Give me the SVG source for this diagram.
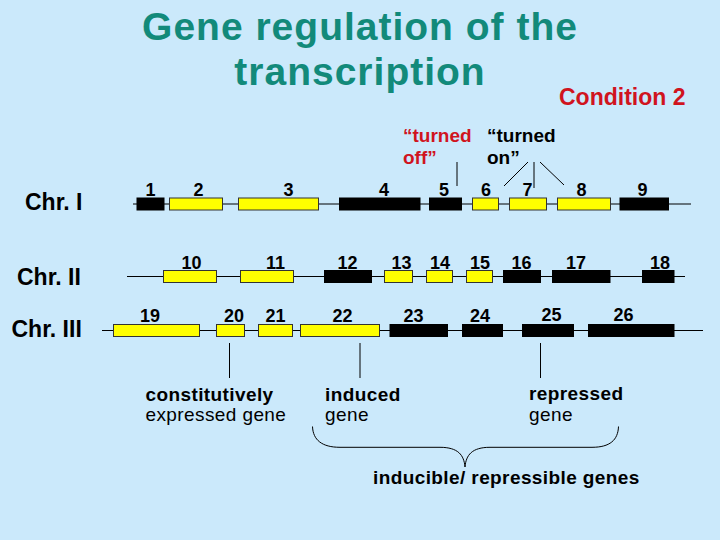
<svg xmlns="http://www.w3.org/2000/svg" width="720" height="540" viewBox="0 0 720 540">
<style>
.bg{fill:#cbe9fb}
.title{font-family:"Liberation Sans",Arial,sans-serif;font-weight:bold;font-size:39px;letter-spacing:1px;fill:#128a7a;text-anchor:middle}
.cond{font-family:"Liberation Sans",Arial,sans-serif;font-weight:bold;font-size:23px;fill:#d0141e}
.chr{font-family:"Liberation Sans",Arial,sans-serif;font-weight:bold;font-size:23px;fill:#000}
.num{font-family:"Liberation Sans",Arial,sans-serif;font-weight:bold;font-size:18px;fill:#000;text-anchor:middle}
.tn{font-family:"Liberation Sans",Arial,sans-serif;font-weight:bold;font-size:19px}
.lb{font-family:"Liberation Sans",Arial,sans-serif;font-size:19px;letter-spacing:0.4px;fill:#000}
.b{font-weight:bold}
.chrline{stroke:#000;stroke-width:1.2;fill:none}
.on{fill:#ffff00;stroke:#333;stroke-width:1}
.off{fill:#000;stroke:#000;stroke-width:1}
.ln{stroke:#000;stroke-width:1;fill:none}
</style>
<rect class="bg" x="0" y="0" width="720" height="540"/>

<g id="title">
<text class="title" x="360" y="40">Gene regulation of the</text>
<text class="title" x="360" y="85">transcription</text>
<text class="cond" x="559" y="105">Condition 2</text>
</g>

<g id="chr1">
<text class="chr" x="25" y="210">Chr. I</text>
<line class="chrline" x1="133" y1="204" x2="691" y2="204"/>
<rect id="g1" class="off" x="137" y="198" width="27" height="12"/>
<rect id="g2" class="on" x="169.5" y="198" width="53" height="12"/>
<rect id="g3" class="on" x="238.5" y="198" width="80" height="12"/>
<rect id="g4" class="off" x="339.5" y="198" width="80.5" height="12"/>
<rect id="g5" class="off" x="429.5" y="198" width="32" height="12"/>
<rect id="g6" class="on" x="472.5" y="198" width="26" height="12"/>
<rect id="g7" class="on" x="509.5" y="198" width="37" height="12"/>
<rect id="g8" class="on" x="557.5" y="198" width="53" height="12"/>
<rect id="g9" class="off" x="620" y="198" width="48.5" height="12"/>
<text class="num" x="150.5" y="196">1</text>
<text class="num" x="198.5" y="196">2</text>
<text class="num" x="288.5" y="196">3</text>
<text class="num" x="384" y="196">4</text>
<text class="num" x="444" y="196">5</text>
<text class="num" x="486" y="196">6</text>
<text class="num" x="527.5" y="196">7</text>
<text class="num" x="581.5" y="196">8</text>
<text class="num" x="642.5" y="196">9</text>
</g>

<g id="chr2">
<text class="chr" x="17" y="285">Chr. II</text>
<line class="chrline" x1="127" y1="276.5" x2="685" y2="276.5"/>
<rect id="g10" class="on" x="163.5" y="270.5" width="53" height="12"/>
<rect id="g11" class="on" x="240.5" y="270.5" width="53" height="12"/>
<rect id="g12" class="off" x="324.5" y="270.5" width="47" height="12"/>
<rect id="g13" class="on" x="384.5" y="270.5" width="28" height="12"/>
<rect id="g14" class="on" x="426.5" y="270.5" width="26" height="12"/>
<rect id="g15" class="on" x="466.5" y="270.5" width="26" height="12"/>
<rect id="g16" class="off" x="503.5" y="270.5" width="37" height="12"/>
<rect id="g17" class="off" x="552.5" y="270.5" width="57.5" height="12"/>
<rect id="g18" class="off" x="642.5" y="270.5" width="31.5" height="12"/>
<text class="num" x="191.5" y="269">10</text>
<text class="num" x="275.5" y="269">11</text>
<text class="num" x="347.5" y="269">12</text>
<text class="num" x="401.5" y="269">13</text>
<text class="num" x="440" y="269">14</text>
<text class="num" x="480" y="269">15</text>
<text class="num" x="521.5" y="269">16</text>
<text class="num" x="576" y="269">17</text>
<text class="num" x="660" y="269">18</text>
</g>

<g id="chr3">
<text class="chr" x="11.5" y="337">Chr. III</text>
<line class="chrline" x1="102" y1="330.5" x2="703" y2="330.5"/>
<rect id="g19" class="on" x="113.5" y="324.5" width="86" height="12"/>
<rect id="g20" class="on" x="216.5" y="324.5" width="28" height="12"/>
<rect id="g21" class="on" x="258.5" y="324.5" width="34" height="12"/>
<rect id="g22" class="on" x="300.5" y="324.5" width="79" height="12"/>
<rect id="g23" class="off" x="390" y="324.5" width="57.5" height="12"/>
<rect id="g24" class="off" x="462.5" y="324.5" width="40" height="12"/>
<rect id="g25" class="off" x="522.5" y="324.5" width="51" height="12"/>
<rect id="g26" class="off" x="588.5" y="324.5" width="85.5" height="12"/>
<text class="num" x="150" y="322">19</text>
<text class="num" x="234" y="322">20</text>
<text class="num" x="275.5" y="322">21</text>
<text class="num" x="342.5" y="322">22</text>
<text class="num" x="413.5" y="322">23</text>
<text class="num" x="480" y="322">24</text>
<text class="num" x="551.5" y="320.5">25</text>
<text class="num" x="623.5" y="321">26</text>
</g>

<g id="connectors">
<line class="ln" x1="457" y1="162" x2="457" y2="186"/>
<line class="ln" x1="528" y1="162" x2="504" y2="186"/>
<line class="ln" x1="534" y1="162" x2="534" y2="188"/>
<line class="ln" x1="540" y1="162" x2="564" y2="185"/>
<line class="ln" x1="229.5" y1="343" x2="229.5" y2="378"/>
<line class="ln" x1="360" y1="343" x2="360" y2="378"/>
<line class="ln" x1="540.5" y1="343" x2="540.5" y2="378"/>
<path class="ln" d="M312.5,426.5 C313,440 322,447.3 340,447.3 L440,447.3 C458,447.3 464,455 465,467 C466,455 472,447.3 490,447.3 L592,447.3 C610,447.3 618,440 618.5,426.5"/>
</g>

<g id="turned-off">
<text class="tn" fill="#d0141e" x="403" y="141.5">“turned</text>
<text class="tn" fill="#d0141e" x="403" y="164">off”</text>
</g>
<g id="turned-on">
<text class="tn" fill="#000" x="487" y="141.5">“turned</text>
<text class="tn" fill="#000" x="487" y="164">on”</text>
</g>

<g id="constitutive-label">
<text class="lb b" x="145.5" y="401">constitutively</text>
<text class="lb" x="145.5" y="421">expressed gene</text>
</g>
<g id="induced-label">
<text class="lb b" x="325" y="401">induced</text>
<text class="lb" x="325" y="421">gene</text>
</g>
<g id="repressed-label">
<text class="lb b" x="529" y="400">repressed</text>
<text class="lb" x="529" y="421">gene</text>
</g>
<g id="brace-label">
<text class="lb b" x="373" y="484">inducible/ repressible genes</text>
</g>
</svg>
